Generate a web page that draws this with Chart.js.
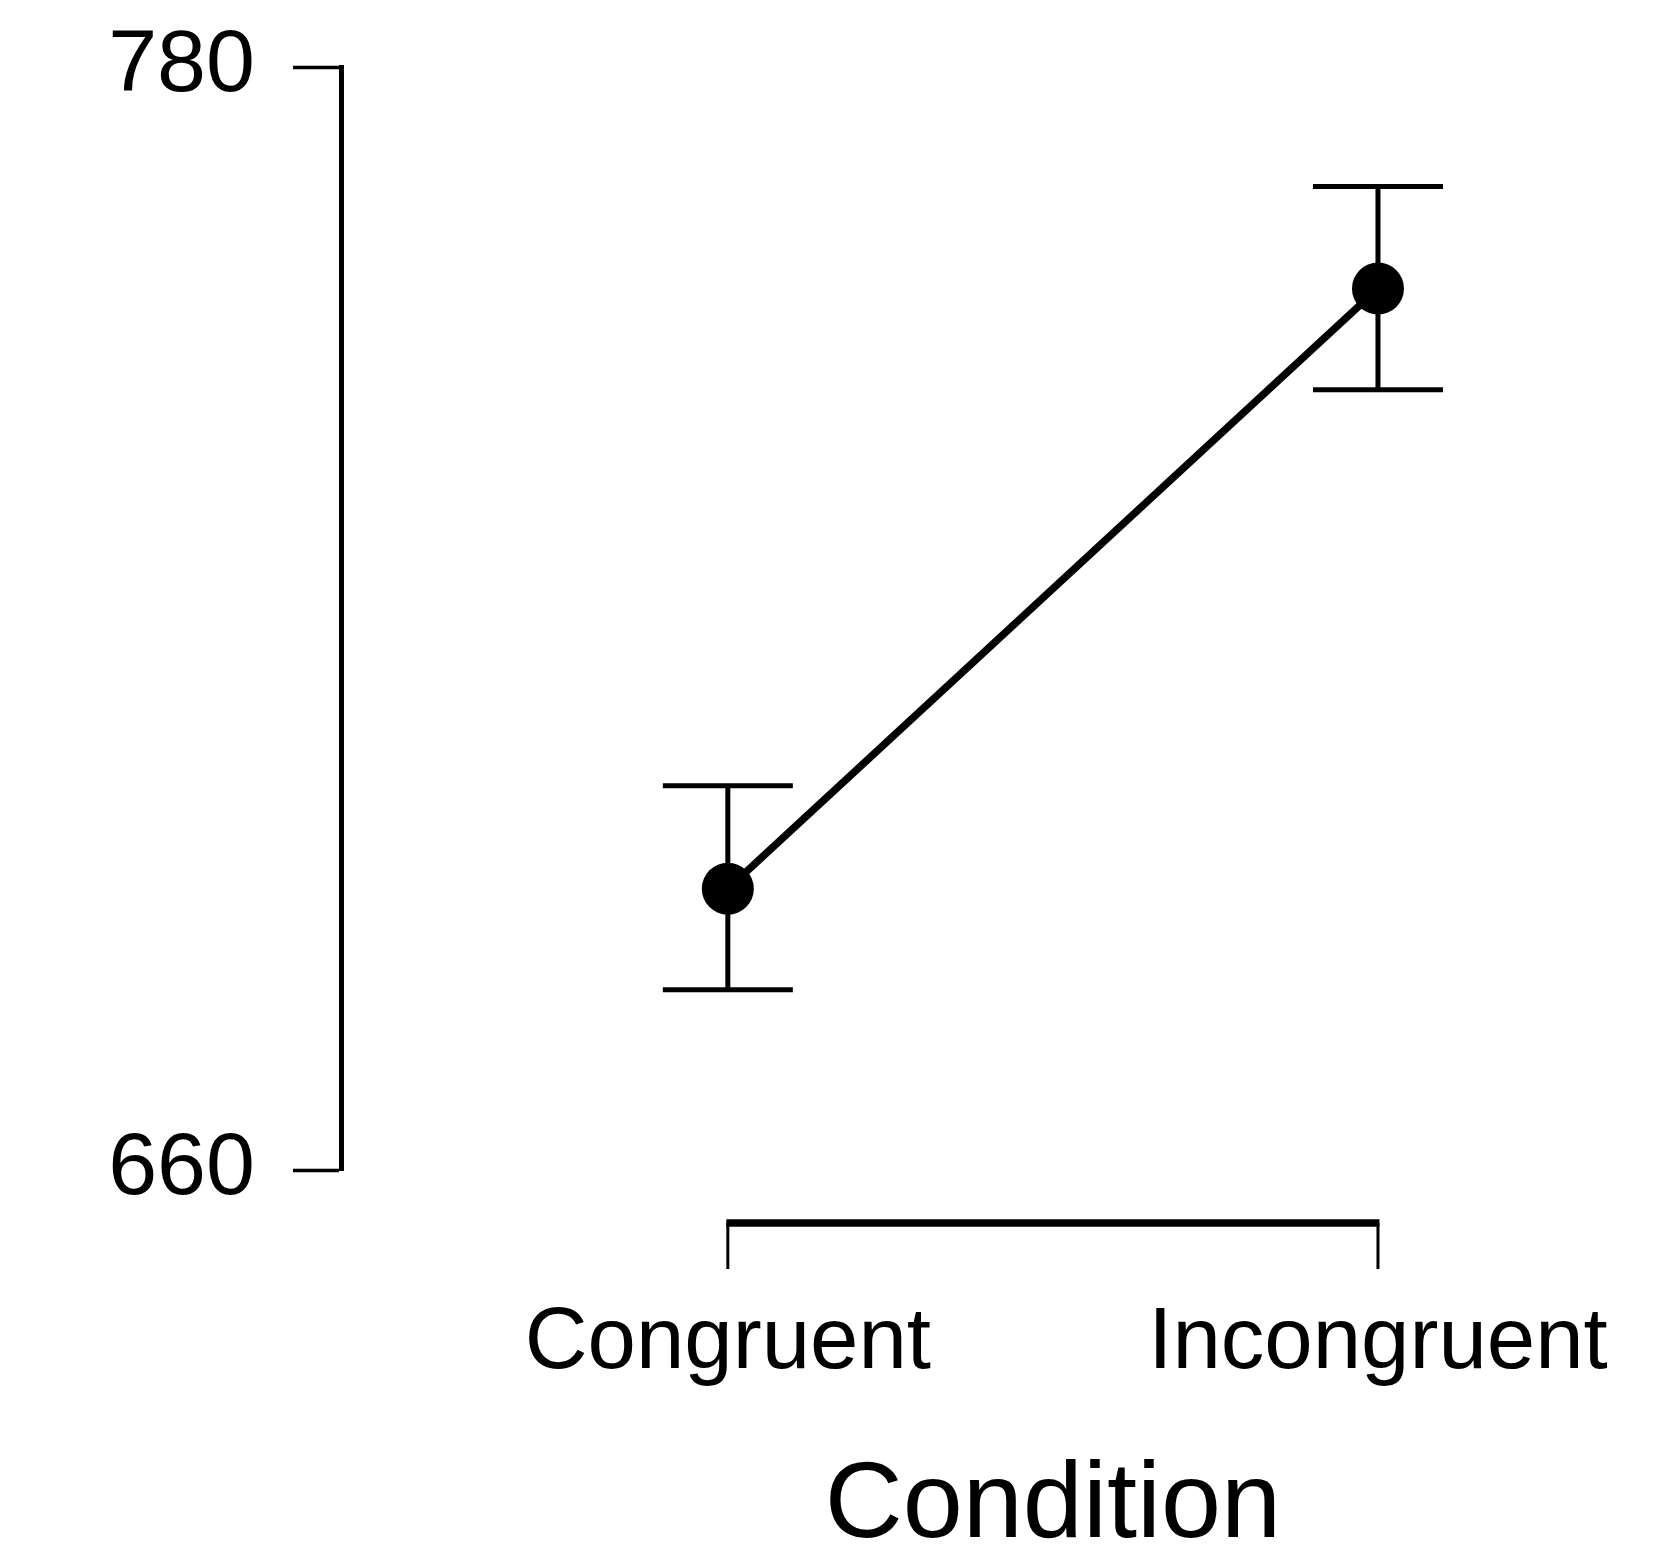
<!DOCTYPE html>
<html>
<head>
<meta charset="utf-8">
<title>Condition</title>
<script src="https://cdn.jsdelivr.net/npm/chart.js@4.4.1/dist/chart.umd.min.js"></script>
<style>
    html, body { margin: 0; padding: 0; background: #fff; }
    #wrap { width: 1659px; height: 1550px; position: relative; }
</style>
</head>
<body>
<div id="wrap"><canvas id="rtChart"></canvas></div>
<script>
// 数据
const categories = ['Congruent', 'Incongruent'];
const meanRT = [690.6, 755.9];
const errLower = [679.6, 744.9];
const errUpper = [701.8, 767.0];
const yTicks = [660, 780];
const xAxisTitle = 'Condition';

const FONT = "'Liberation Sans', Arial, Helvetica, sans-serif";

// 误差线 + R风格x轴括号 + 轴标题
const rStylePlugin = {
    id: 'rStyle',
    beforeDatasetsDraw(chart) {
        const ctx = chart.ctx;
        const xs = chart.scales.x;
        const ys = chart.scales.y;
        ctx.save();
        ctx.strokeStyle = '#000';
        ctx.lineWidth = 5;
        meanRT.forEach((m, i) => {
            const px = xs.getPixelForValue(i);
            const top = ys.getPixelForValue(errUpper[i]);
            const bot = ys.getPixelForValue(errLower[i]);
            ctx.beginPath();
            ctx.moveTo(px, top);
            ctx.lineTo(px, bot);
            ctx.moveTo(px - 65, top);
            ctx.lineTo(px + 65, top);
            ctx.moveTo(px - 65, bot);
            ctx.lineTo(px + 65, bot);
            ctx.stroke();
        });
        ctx.restore();
    },
    afterDraw(chart) {
        const ctx = chart.ctx;
        const xs = chart.scales.x;
        const x0 = xs.getPixelForValue(0);
        const x1 = xs.getPixelForValue(categories.length - 1);
        const yb = chart.chartArea.bottom + 53;
        ctx.save();
        ctx.strokeStyle = '#000';
        // 括号横线
        ctx.lineWidth = 7.5;
        ctx.beginPath();
        ctx.moveTo(x0 - 1.5, yb);
        ctx.lineTo(x1 + 1.5, yb);
        ctx.stroke();
        // 刻度
        ctx.lineWidth = 3;
        categories.forEach((c, i) => {
            const px = xs.getPixelForValue(i);
            ctx.beginPath();
            ctx.moveTo(px, yb);
            ctx.lineTo(px, yb + 46);
            ctx.stroke();
        });
        // x轴标题
        ctx.fillStyle = '#000';
        ctx.font = '108px ' + FONT;
        ctx.textAlign = 'center';
        ctx.textBaseline = 'alphabetic';
        ctx.fillText(xAxisTitle, (x0 + x1) / 2, chart.height - 13);
        ctx.restore();
    }
};

const ctx = document.getElementById('rtChart').getContext('2d');
const rtChart = new Chart(ctx, {
    type: 'line',
    data: {
        datasets: [{
            label: 'RT',
            data: meanRT.map((v, i) => ({ x: i, y: v })),
            borderColor: '#000',
            borderWidth: 7.5,
            pointRadius: 26,
            pointHoverRadius: 26,
            pointBackgroundColor: '#000',
            pointBorderWidth: 0,
            fill: false,
            tension: 0
        }]
    },
    options: {
        responsive: true,
        maintainAspectRatio: false,
        devicePixelRatio: 1,
        animation: false,
        events: [],
        layout: {
            padding: { top: 67, right: 151, bottom: 0, left: 0 }
        },
        scales: {
            x: {
                type: 'linear',
                min: -0.595,
                max: 1.2,
                afterBuildTicks: scale => {
                    scale.ticks = categories.map((c, i) => ({ value: i }));
                },
                afterFit: scale => {
                    scale.height = 380;
                    scale.paddingLeft = 0;
                    scale.paddingRight = 0;
                },
                grid: { display: false, drawTicks: false },
                border: { display: false },
                ticks: {
                    color: '#000',
                    padding: 122,
                    maxRotation: 0,
                    autoSkip: false,
                    font: { family: FONT, size: 87 },
                    callback: (value) => categories[value]
                }
            },
            y: {
                min: 660,
                max: 780,
                afterBuildTicks: scale => {
                    scale.ticks = yTicks.map(v => ({ value: v }));
                },
                afterFit: scale => {
                    scale.width = 341;
                    scale.paddingTop = 0;
                    scale.paddingBottom = 0;
                },
                grid: {
                    display: true,
                    drawOnChartArea: false,
                    drawTicks: true,
                    tickLength: 48,
                    tickWidth: 3.5,
                    tickColor: '#000'
                },
                border: { display: true, color: '#000', width: 5 },
                ticks: {
                    color: '#000',
                    padding: 38,
                    font: { family: FONT, size: 88 }
                }
            }
        },
        plugins: {
            legend: { display: false },
            tooltip: { enabled: false }
        }
    },
    plugins: [rStylePlugin]
});
</script>
</body>
</html>
